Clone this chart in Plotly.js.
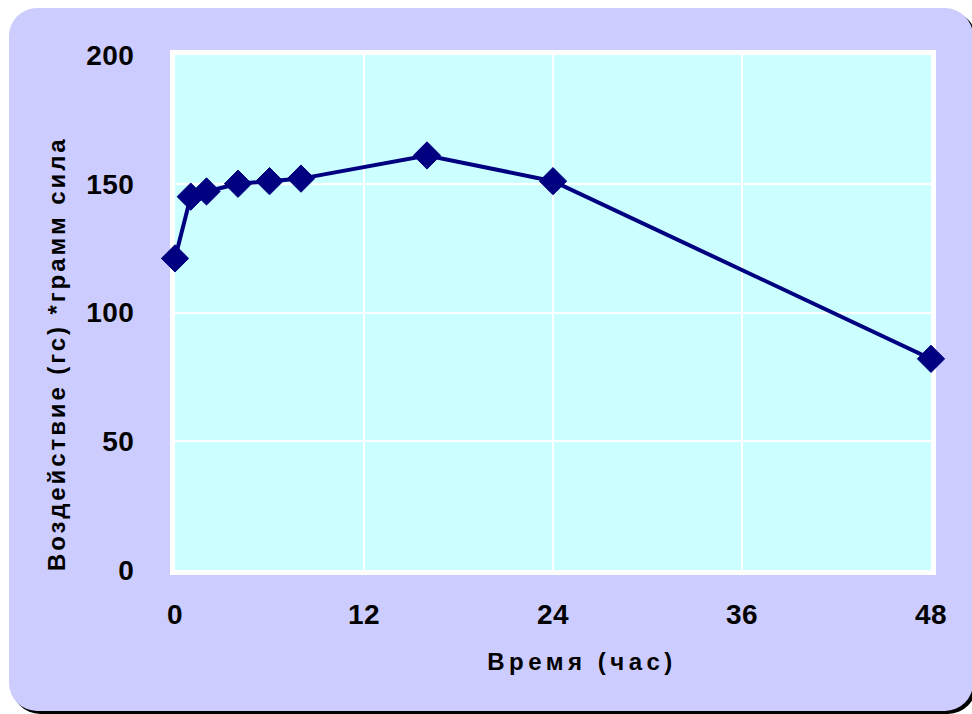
<!DOCTYPE html>
<html>
<head>
<meta charset="utf-8">
<script src="https://cdn.plot.ly/plotly-3.0.1.min.js"></script>
<style>
  html, body { margin: 0; padding: 0; background: #ffffff; }
  #wrap { position: relative; width: 972px; height: 714px; overflow: hidden; }
  #panel {
    position: absolute; left: 9px; top: 8px; width: 964px; height: 703px;
    background: #ccccff; border-radius: 28px; box-shadow: 3px 3px 0 #000000;
  }
  #chart { position: absolute; left: 0; top: 0; width: 972px; height: 714px; }
  g.annotation[data-index="0"] .annotation-text { letter-spacing: 4.5px; }
  g.annotation[data-index="1"] .annotation-text { letter-spacing: 2.9px; }
  .xtick text, .ytick text { letter-spacing: 0.5px; }
</style>
</head>
<body>
<div id="wrap">
  <div id="panel"></div>
  <div id="chart"></div>
</div>
<script>
// Time after application, hours
const hours = [0, 1, 2, 4, 6, 8, 16, 24, 48];
// Measured force, gram-force
const force = [121, 145, 147, 150, 151, 152, 161, 151, 82];

const xTicks = [0, 12, 24, 36, 48];
const yTicks = [0, 50, 100, 150, 200];

const xTitle = 'Время (час)';
const yTitle = 'Воздействие (гс) *грамм сила';

const navy = '#000080';
const tickFont = { family: 'Liberation Sans, Arial, sans-serif', size: 28, color: '#000000', weight: 700 };
const titleFont = { family: 'Liberation Sans, Arial, sans-serif', size: 24, color: '#000000', weight: 700 };

const trace = {
  x: hours,
  y: force,
  type: 'scatter',
  mode: 'lines+markers',
  line: { color: navy, width: 4 },
  marker: { symbol: 'diamond', size: 21, color: navy, line: { color: navy, width: 1 } },
  cliponaxis: false,
  hoverinfo: 'x+y'
};

const layout = {
  width: 972,
  height: 714,
  margin: { l: 175, r: 41, t: 55, b: 144, pad: 0 },
  paper_bgcolor: 'rgba(0,0,0,0)',
  plot_bgcolor: '#ccffff',
  showlegend: false,
  xaxis: {
    range: [0, 48],
    tickvals: xTicks,
    ticktext: xTicks.map(String),
    showgrid: true,
    gridcolor: '#ffffff',
    gridwidth: 2,
    zeroline: false,
    showline: true,
    linecolor: '#ffffff',
    linewidth: 5,
    mirror: true,
    layer: 'below traces',
    ticks: 'outside',
    ticklen: 15,
    tickcolor: 'rgba(0,0,0,0)',
    tickfont: tickFont
  },
  yaxis: {
    range: [0, 200],
    tickvals: yTicks,
    ticktext: yTicks.map(String),
    showgrid: true,
    gridcolor: '#ffffff',
    gridwidth: 2,
    zeroline: false,
    showline: true,
    linecolor: '#ffffff',
    linewidth: 5,
    mirror: true,
    layer: 'below traces',
    ticks: 'outside',
    ticklen: 30,
    tickcolor: 'rgba(0,0,0,0)',
    tickfont: tickFont
  },
  annotations: [
    {
      text: xTitle, xref: 'paper', yref: 'paper',
      x: 0.538, y: -0.177, xanchor: 'center', yanchor: 'middle',
      showarrow: false, font: titleFont
    },
    {
      text: yTitle, xref: 'paper', yref: 'paper',
      x: -0.157, y: 0.421, xanchor: 'center', yanchor: 'middle',
      textangle: -90, showarrow: false, font: titleFont
    }
  ]
};

Plotly.newPlot('chart', [trace], layout, { displayModeBar: false, staticPlot: true });
</script>
</body>
</html>
